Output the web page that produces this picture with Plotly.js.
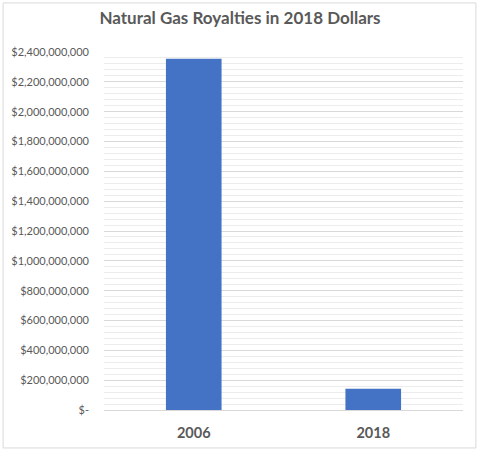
<!DOCTYPE html>
<html>
    <head>
        <script src="https://cdn.plot.ly/plotly-3.0.1.min.js"></script>
        <style>
            body { margin: 0; background: #fff; }
        </style>
    </head>
    <body>
        <div id="plot" style="width:480px;height:452px;"></div>
        <script type="text/javascript">
            // values
            var years = ['2006', '2018'];
            var royalties = [2355000000, 143000000];

            var tickVals = [0, 200e6, 400e6, 600e6, 800e6, 1000e6, 1200e6, 1400e6, 1600e6, 1800e6, 2000e6, 2200e6, 2400e6];
            var tickText = ['$-', '$200,000,000', '$400,000,000', '$600,000,000', '$800,000,000',
                '$1,000,000,000', '$1,200,000,000', '$1,400,000,000', '$1,600,000,000',
                '$1,800,000,000', '$2,000,000,000', '$2,200,000,000', '$2,400,000,000'];

            var trace = {
                x: years,
                y: royalties,
                type: 'bar',
                width: 0.31,
                marker: {color: '#4472C4'},
                hoverinfo: 'none'
            };

            var layout = {
                width: 480,
                height: 452,
                margin: {l: 104, r: 17, t: 52, b: 42},
                paper_bgcolor: '#ffffff',
                plot_bgcolor: '#ffffff',
                showlegend: false,
                font: {family: 'Lato, sans-serif', color: '#595959'},
                title: {
                    text: 'Natural Gas Royalties in 2018 Dollars',
                    font: {size: 17, color: '#595959', weight: 'bold'},
                    x: 0.5,
                    xanchor: 'center',
                    y: 0.96,
                    yanchor: 'middle'
                },
                xaxis: {
                    type: 'category',
                    tickfont: {size: 14.5, color: '#595959', weight: 'bold'},
                    ticks: '',
                    ticklabelstandoff: 12,
                    showline: false,
                    showgrid: false,
                    zeroline: false,
                    fixedrange: true
                },
                yaxis: {
                    range: [0, 2400e6],
                    tickvals: tickVals,
                    ticktext: tickText,
                    tickfont: {size: 11, color: '#595959'},
                    ticks: '',
                    ticklen: 0,
                    ticklabelstandoff: 14,
                    showline: false,
                    gridcolor: '#d9d9d9',
                    gridwidth: 1,
                    zeroline: true,
                    zerolinecolor: '#d9d9d9',
                    minor: {dtick: 40e6, showgrid: true, gridcolor: '#ececec', gridwidth: 1},
                    fixedrange: true
                },
                shapes: [{
                    type: 'rect',
                    xref: 'paper', yref: 'paper',
                    x0: -0.281, x1: 1.036,
                    y0: -0.106, y1: 1.137,
                    line: {color: '#d9d9d9', width: 1},
                    fillcolor: 'rgba(0,0,0,0)',
                    layer: 'below'
                }]
            };

            Plotly.newPlot('plot', [trace], layout, {displayModeBar: false, staticPlot: true});
        </script>
    </body>
</html>
